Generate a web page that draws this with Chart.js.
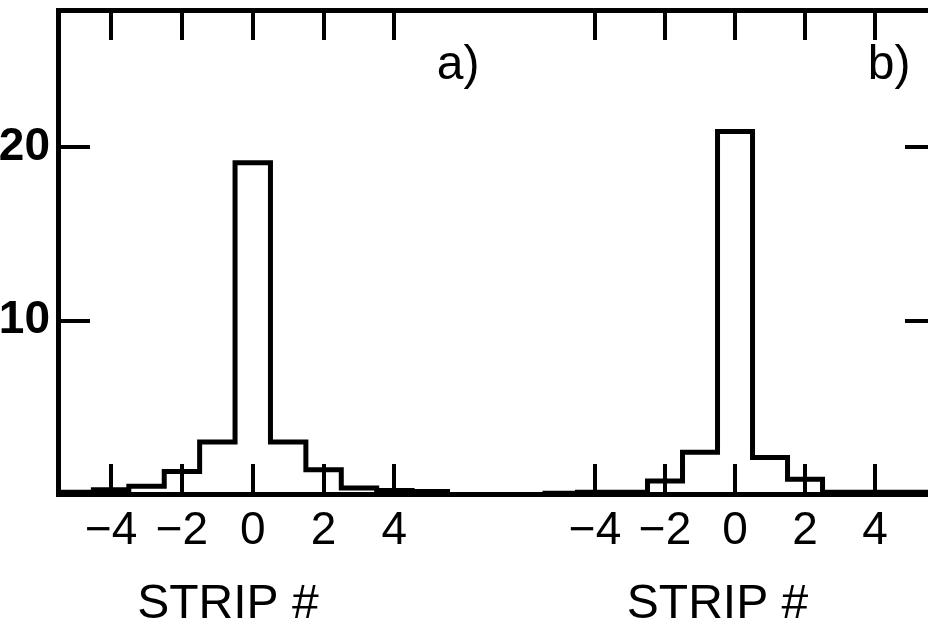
<!DOCTYPE html>
<html>
<head>
<meta charset="utf-8">
<script src="https://cdn.jsdelivr.net/npm/chart.js@4.4.1/dist/chart.umd.min.js"></script>
<style>
  body { margin: 0; background: #fff; }
  #wrap { position: relative; width: 928px; height: 638px; overflow: hidden; background: #fff; }
  #chartA { position: absolute; left: 0; top: 0; }
  #chartB { position: absolute; left: 490px; top: 0; }
</style>
</head>
<body>
<div id="wrap">
  <canvas id="chartA" width="490" height="638"></canvas>
  <canvas id="chartB" width="450" height="638"></canvas>
</div>
<script>
// strip number of each histogram bin (bin width 1, centred on the strip)
const strips = [-5, -4, -3, -2, -1, 0, 1, 2, 3, 4, 5];
// panel a) and b) contents
const countsA = [0.1, 0.25, 0.45, 1.3, 3.0, 19.1, 3.0, 1.4, 0.35, 0.2, 0.15];
const countsB = [0.05, 0.1, 0.1, 0.75, 2.4, 20.9, 2.1, 0.85, 0.1, 0.1, 0.1];
const stripTicks = [-4, -2, 0, 2, 4];
const countTicks = [10, 20];

const FONT = "'Liberation Sans Narrow', 'Liberation Sans', sans-serif";
const INK = '#000';

// left bin edges carry the bin value, last edge closes back to zero
const stepPoints = (counts) => {
    let pts = strips.map((s, i) => ({ x: s - 0.5, y: counts[i] }));
    pts.push({ x: strips[strips.length - 1] + 0.5, y: 0 });
    return pts;
};

const setTicks = (list) => (scale) => { scale.ticks = list.map(v => ({ value: v })); };
const minus = (v) => String(v).replace('-', '\u2212');

const panelText = {
    id: 'panelText',
    afterDraw(chart, args, opts) {
        const { ctx, scales } = chart;
        ctx.save();
        ctx.fillStyle = INK;
        ctx.textAlign = 'center';
        ctx.textBaseline = 'middle';
        ctx.font = '48px ' + FONT;
        ctx.fillText(opts.title, scales.x.getPixelForValue(opts.titleAt), scales.x.bottom - 33);
        ctx.fillText(opts.tag, scales.x.getPixelForValue(opts.tagX), scales.y.getPixelForValue(opts.tagY));
        ctx.restore();
    }
};

const xScales = (min, max) => ({
    x: {
        type: 'linear', position: 'bottom', min: min, max: max,
        afterBuildTicks: setTicks(stripTicks),
        afterFit: (s) => { s.height = 144; },
        grid: { drawOnChartArea: false, drawTicks: true, tickLength: -30, color: INK, lineWidth: 4 },
        border: { display: true, color: INK, width: 5 },
        ticks: { padding: 40, color: INK, font: { family: FONT, size: 46 }, maxRotation: 0, autoSkip: false, callback: minus }
    },
    xTop: {
        type: 'linear', position: 'top', min: min, max: max,
        afterBuildTicks: setTicks(stripTicks),
        afterFit: (s) => { s.height = 10; },
        grid: { drawOnChartArea: false, drawTicks: true, tickLength: -30, color: INK, lineWidth: 4 },
        border: { display: true, color: INK, width: 5 },
        ticks: { display: false }
    }
});

const histDataset = (counts) => ({
    data: stepPoints(counts),
    stepped: true,
    borderColor: INK,
    borderWidth: 5,
    pointRadius: 0,
    fill: false
});

const baseOptions = {
    responsive: false,
    animation: false,
    layout: { padding: 0 },
    plugins: { legend: { display: false }, tooltip: { enabled: false } }
};

new Chart(document.getElementById('chartA'), {
    type: 'line',
    data: { datasets: [histDataset(countsA)] },
    plugins: [panelText],
    options: {
        ...baseOptions,
        plugins: { ...baseOptions.plugins, panelText: { title: 'STRIP #', titleAt: -0.7, tag: 'a)', tagX: 5.8, tagY: 24.7 } },
        scales: {
            ...xScales(-5.5, 6.7),
            y: {
                position: 'left', min: 0, max: 27.9,
                afterBuildTicks: setTicks(countTicks),
                afterFit: (s) => { s.width = 58; s.paddingTop = 0; s.paddingBottom = 0; },
                grid: { drawOnChartArea: false, drawTicks: true, tickLength: -32, color: INK, lineWidth: 4 },
                border: { display: true, color: INK, width: 5 },
                ticks: { padding: 40, color: INK, font: { family: FONT, size: 46, weight: 'bold' } }
            }
        }
    }
});

new Chart(document.getElementById('chartB'), {
    type: 'line',
    data: { datasets: [histDataset(countsB)] },
    plugins: [panelText],
    options: {
        ...baseOptions,
        plugins: { ...baseOptions.plugins, panelText: { title: 'STRIP #', titleAt: -0.5, tag: 'b)', tagX: 4.4, tagY: 24.7 } },
        scales: {
            ...xScales(-7.0, 5.57),
            y: {
                position: 'right', min: 0, max: 27.9,
                afterBuildTicks: setTicks(countTicks),
                afterFit: (s) => { s.width = 10; },
                grid: { drawOnChartArea: false, drawTicks: true, tickLength: -25, color: INK, lineWidth: 4 },
                border: { display: false },
                ticks: { display: false }
            }
        }
    }
});
</script>
</body>
</html>
